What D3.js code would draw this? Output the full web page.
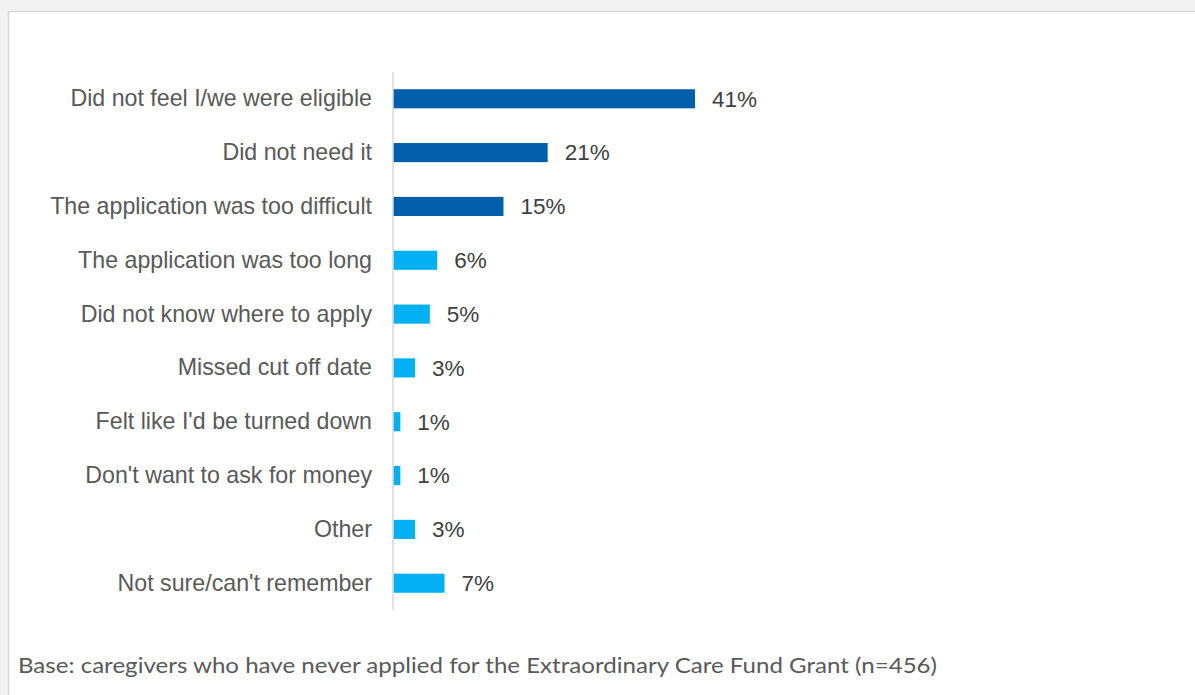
<!DOCTYPE html>
<html>
<head>
<meta charset="utf-8">
<script src="https://cdn.jsdelivr.net/npm/d3@7"></script>
<style>
  html, body { margin: 0; padding: 0; background: #f2f2f2; }
  svg { display: block; }
</style>
</head>
<body>
<svg id="chart" width="1195" height="695"></svg>
<script>
// Reasons for never applying, in display order (top to bottom)
const categories = [
  "Did not feel I/we were eligible",
  "Did not need it",
  "The application was too difficult",
  "The application was too long",
  "Did not know where to apply",
  "Missed cut off date",
  "Felt like I'd be turned down",
  "Don't want to ask for money",
  "Other",
  "Not sure/can't remember"
];
const percents = [41, 21, 15, 6, 5, 3, 1, 1, 3, 7];
// The three leading reasons are highlighted in the darker shade
const highlighted = [true, true, true, false, false, false, false, false, false, false];
const footnote = "Base: caregivers who have never applied for the Extraordinary Care Fund Grant (n=456)";

const svg = d3.select("#chart");
const W = 1195, H = 695;

// Panel
svg.append("rect").attr("width", W).attr("height", H).attr("fill", "#f2f2f2");
svg.append("rect")
  .attr("x", 8.5).attr("y", 11.5)
  .attr("width", W + 10).attr("height", H + 10)
  .attr("fill", "#ffffff")
  .attr("stroke", "#d9d9d9").attr("stroke-width", 1.5);

const x0 = 393;
const x = d3.scaleLinear().domain([0, 41]).range([x0, 695]);
const y = d3.scaleBand().domain(categories).range([72, 610]).paddingInner(0.645).paddingOuter(0.32);

const data = categories.map((c, i) => ({ c, v: percents[i], hi: highlighted[i] }));

// Bars
svg.append("g").selectAll("rect").data(data).join("rect")
  .attr("x", x(0))
  .attr("y", d => y(d.c))
  .attr("width", d => x(d.v) - x(0))
  .attr("height", y.bandwidth())
  .attr("fill", d => d.hi ? "#005EAB" : "#00B0F0");

// Category axis
const axis = svg.append("g")
  .attr("transform", `translate(${x0},0)`)
  .call(d3.axisLeft(y).tickSize(0).tickPadding(21));
axis.select(".domain").attr("stroke", "#d9d9d9").attr("stroke-width", 1.5)
  .attr("d", "M0,72V610");
axis.selectAll("text")
  .attr("font-family", "'Liberation Sans', Arial, sans-serif")
  .attr("font-size", 23.2)
  .attr("fill", "#595959");

// Value labels
svg.append("g").selectAll("text").data(data).join("text")
  .attr("x", d => x(d.v) + 17)
  .attr("y", d => y(d.c) + y.bandwidth() / 2)
  .attr("dy", "0.35em")
  .attr("font-family", "'Liberation Sans', Arial, sans-serif")
  .attr("font-size", 22.5)
  .attr("fill", "#404040")
  .text(d => d.v + "%");

// Footnote
svg.append("text")
  .attr("x", 18).attr("y", 673)
  .attr("font-family", "Lato, 'Open Sans', sans-serif")
  .attr("font-size", 22)
  .attr("fill", "#595959")
  .attr("textLength", 919).attr("lengthAdjust", "spacingAndGlyphs")
  .text(footnote);
</script>
</body>
</html>
